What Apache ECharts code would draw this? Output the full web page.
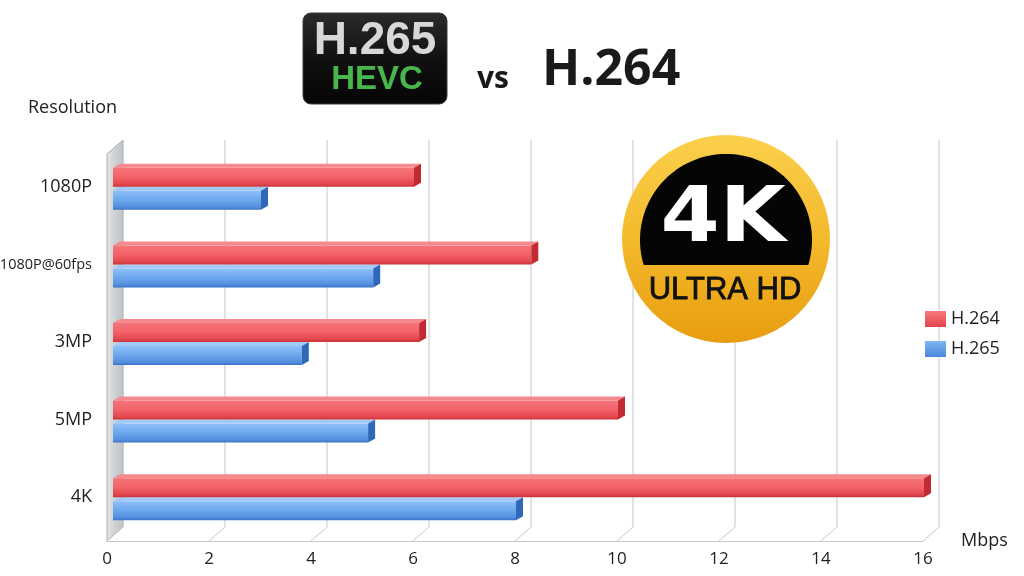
<!DOCTYPE html>
<html>
<head>
<meta charset="utf-8">
<script src="https://cdn.jsdelivr.net/npm/echarts@6/dist/echarts.min.js"></script>
<style>
html,body{margin:0;padding:0;background:#fff;}
#chart{width:1024px;height:576px;}
</style>
</head>
<body>
<div id="chart"></div>
<script>
// ---- data ----
const categories = ['1080P', '1080P@60fps', '3MP', '5MP', '4K'];
const seriesNames = ['H.264', 'H.265'];
const h264 = [6, 8.3, 6.1, 10, 16];
const h265 = [3, 5.2, 3.8, 5.1, 8];
const xTicks = [0, 2, 4, 6, 8, 10, 12, 14, 16];
const xName = 'Mbps';
const yName = 'Resolution';

const G = echarts.graphic;
const palette = {
  red: {
    front: [[0, '#f57479'], [0.45, '#f3636a'], [0.85, '#e4474e'], [1, '#c8323a']],
    top: '#f58a8e',
    cap: '#c22a31',
    legend: [[0, '#f6797d'], [1, '#e2444b']]
  },
  blue: {
    front: [[0, '#8ec0f8'], [0.45, '#6fa9ef'], [0.85, '#548fdf'], [1, '#3a72c4']],
    top: '#a3c9f6',
    cap: '#2f68b8',
    legend: [[0, '#80b6f5'], [1, '#4c88da']]
  }
};

function barRender(kind) {
  return function (params, api) {
    const v = api.value(0), ci = api.value(1);
    const p0 = api.coord([0, ci]);
    const p1 = api.coord([v, ci]);
    const h = 23, dx = 7, dy = 4;
    const top = kind === 'red' ? p0[1] - h : p0[1];
    const bot = top + h;
    const xs = p0[0] + 6, xe = p1[0] + 8;
    const C = palette[kind];
    return {
      type: 'group',
      children: [
        { type: 'rect', shape: { x: xs, y: top + dy, width: xe - dx - xs, height: h - dy },
          style: { fill: new G.LinearGradient(0, 0, 0, 1, C.front.map(s => ({ offset: s[0], color: s[1] }))) } },
        { type: 'polygon', shape: { points: [[xs, top + dy], [xs + dx, top], [xe, top], [xe - dx, top + dy]] },
          style: { fill: C.top } },
        { type: 'polygon', shape: { points: [[xe - dx, top + dy], [xe, top], [xe, bot - dy], [xe - dx, bot]] },
          style: { fill: C.cap } }
      ]
    };
  };
}

function frameRender(params, api) {
  const v = api.value(0);
  const cs = params.coordSys;
  const x = api.coord([v, 0])[0];
  const topB = cs.y - 8, botB = cs.y + cs.height - 9, botF = cs.y + cs.height + 5;
  const ch = [
    { type: 'line', shape: { x1: x + 16, y1: topB, x2: x + 16, y2: botB }, style: { stroke: '#c6c6c6', lineWidth: 1 } },
    { type: 'line', shape: { x1: x + 16, y1: botB, x2: x, y2: botF }, style: { stroke: '#c6c6c6', lineWidth: 1 } }
  ];
  if (v === 0) {
    ch.unshift({
      type: 'polygon',
      shape: { points: [[x, topB + 14], [x + 16, topB], [x + 16, botB], [x, botF]] },
      style: {
        fill: new G.LinearGradient(0, 0, 1, 0, [
          { offset: 0, color: '#e6e8ea' }, { offset: 0.5, color: '#cdd1d4' }, { offset: 1, color: '#bfc3c7' }
        ]),
        stroke: '#a9adb1', lineWidth: 1
      }
    });
  }
  return { type: 'group', children: ch };
}

// black upper segment of the 4K badge (decoration)
function segmentPoints(cx, cy, r, chordY) {
  const a0 = Math.asin((chordY - cy) / r);
  const pts = [];
  const start = Math.PI - a0, end = 2 * Math.PI + a0;
  for (let i = 0; i <= 80; i++) {
    const t = start + (end - start) * i / 80;
    pts.push([cx + r * Math.cos(t), cy + r * Math.sin(t)]);
  }
  return pts;
}

const chart = echarts.init(document.getElementById('chart'), null, { renderer: 'canvas' });

const option = {
  animation: false,
  backgroundColor: '#ffffff',
  textStyle: { fontFamily: 'Open Sans' },
  grid: { left: 107, right: 101, top: 148, bottom: 40, containLabel: false, outerBoundsMode: 'none' },
  legend: {
    data: seriesNames,
    orient: 'vertical',
    left: 920,
    top: 305,
    icon: 'rect',
    itemWidth: 21,
    itemHeight: 16,
    itemGap: 12,
    textStyle: { fontSize: 18, color: '#222', fontFamily: 'Open Sans' }
  },
  xAxis: {
    type: 'value',
    min: 0,
    max: 16,
    interval: 2,
    offset: 5,
    splitLine: { show: false },
    axisTick: { show: false },
    axisLine: { show: true, lineStyle: { color: '#c6c6c6', width: 1 } },
    axisLabel: { fontSize: 17, color: '#222', margin: 10, fontFamily: 'Open Sans' },
    name: xName,
    nameLocation: 'end',
    nameGap: 38,
    nameTextStyle: { fontSize: 18, color: '#222', padding: [0, 0, 16, 0], fontFamily: 'Open Sans' }
  },
  yAxis: {
    type: 'category',
    data: categories,
    inverse: true,
    axisLine: { show: false },
    axisTick: { show: false },
    splitLine: { show: false },
    axisLabel: {
      fontSize: 18, color: '#222', margin: 15, fontFamily: 'Open Sans',
      formatter: v => (v.length > 6 ? '{s|' + v + '}' : v),
      rich: { s: { fontSize: 14.5, color: '#222', fontFamily: 'Open Sans' } }
    }
  },
  series: [
    {
      name: 'frame', type: 'custom', z: 1, silent: true,
      renderItem: frameRender,
      encode: { x: 0, y: 1 },
      data: xTicks.map(v => [v, 0])
    },
    {
      name: seriesNames[0], type: 'custom', z: 3,
      renderItem: barRender('red'),
      encode: { x: 0, y: 1 },
      itemStyle: { color: new G.LinearGradient(0, 0, 0, 1, palette.red.legend.map(s => ({ offset: s[0], color: s[1] }))) },
      data: h264.map((v, i) => [v, i])
    },
    {
      name: seriesNames[1], type: 'custom', z: 2,
      renderItem: barRender('blue'),
      encode: { x: 0, y: 1 },
      itemStyle: { color: new G.LinearGradient(0, 0, 0, 1, palette.blue.legend.map(s => ({ offset: s[0], color: s[1] }))) },
      data: h265.map((v, i) => [v, i])
    }
  ],
  graphic: [
    // y-axis name
    { type: 'text', x: 28, y: 99, z: 100, style: { text: yName, fontSize: 18, fill: '#222', fontFamily: 'Open Sans' } },
    // H.265 HEVC badge
    { type: 'rect', z: 100, shape: { x: 303, y: 13, width: 144, height: 91, r: 8 },
      style: { fill: new G.LinearGradient(0, 0, 0, 1, [{ offset: 0, color: '#2b2b2b' }, { offset: 0.5, color: '#111' }, { offset: 1, color: '#050505' }]), stroke: '#3a3a3a', lineWidth: 1 } },
    { type: 'text', z: 101, x: 375, y: 41, style: { text: 'H.265', fontSize: 46, fontWeight: 'bold', fontFamily: 'Liberation Sans', align: 'center', verticalAlign: 'middle', fill: '#d8d8d8' } },
    { type: 'text', z: 101, x: 377, y: 80, style: { text: 'HEVC', fontSize: 33, fontWeight: 'bold', fontFamily: 'Liberation Sans', align: 'center', verticalAlign: 'middle', fill: '#48b54d' } },
    { type: 'text', z: 100, x: 477, y: 79, style: { text: 'vs', fontSize: 30, fontWeight: 'bold', fontFamily: 'Open Sans', align: 'left', verticalAlign: 'middle', fill: '#1a1a1a' } },
    { type: 'text', z: 100, x: 542, y: 71, style: { text: 'H.264', fontSize: 50, fontWeight: 'bold', fontFamily: 'Open Sans', align: 'left', verticalAlign: 'middle', fill: '#1a1a1a' } },
    // 4K Ultra HD badge
    { type: 'circle', z: 100, shape: { cx: 726, cy: 239, r: 104 },
      style: { fill: new G.LinearGradient(0, 0, 0, 1, [{ offset: 0, color: '#fbd04c' }, { offset: 0.5, color: '#f4b92c' }, { offset: 1, color: '#e89d10' }]) } },
    { type: 'polygon', z: 101, shape: { points: segmentPoints(726, 240, 86, 265) }, style: { fill: '#050505' } },
    { type: 'text', z: 102, x: 723, y: 221, scaleX: 1.12, style: { text: '4K', fontSize: 76, fontWeight: 'bold', fontFamily: 'DejaVu Sans', align: 'center', verticalAlign: 'middle', fill: '#ffffff' } },
    { type: 'text', z: 102, x: 725, y: 290, style: { text: 'ULTRA HD', fontSize: 31, fontFamily: 'Liberation Sans', align: 'center', verticalAlign: 'middle', fill: '#111111', stroke: '#111111', lineWidth: 0.8 } }
  ]
};
chart.setOption(option);
</script>
</body>
</html>
